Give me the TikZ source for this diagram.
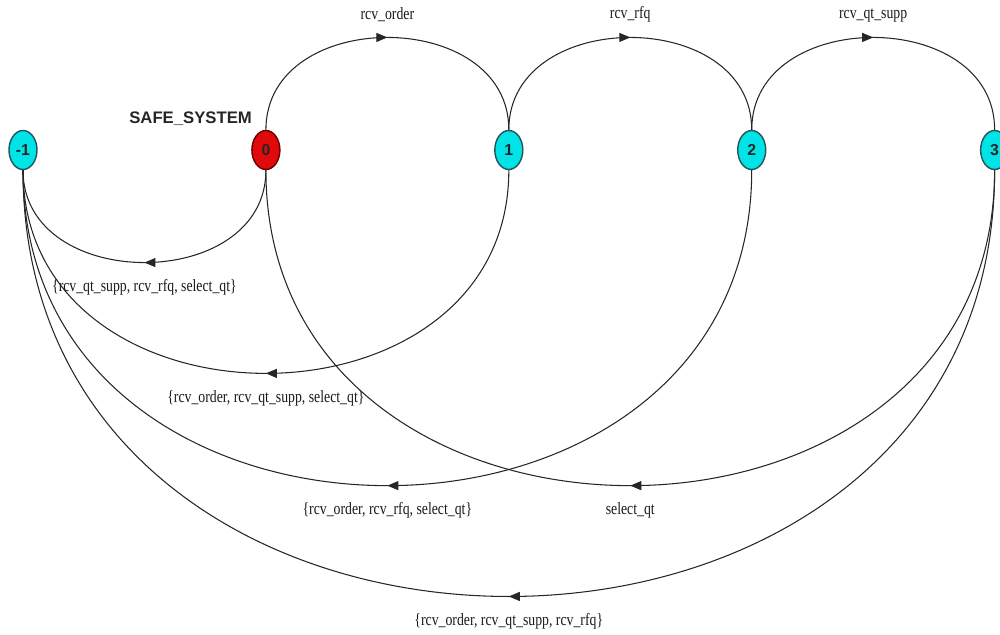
\documentclass[tikz,border=0pt]{standalone}
\usepackage{fontspec}
\setmainfont{Liberation Serif}
\newfontfamily\edgefont[FakeStretch=0.8]{Liberation Serif}
\newfontfamily\statefont{Liberation Sans}
\usetikzlibrary{shapes}
\usetikzlibrary{positioning}
\usetikzlibrary{arrows.meta}
\usetikzlibrary{decorations.markings}
\definecolor{statecyan}{RGB}{0,228,232}
\definecolor{statecyanline}{RGB}{35,85,90}
\definecolor{statered}{RGB}{225,10,10}
\definecolor{stateredline}{RGB}{105,0,0}
\tikzset{
    mystate/.style = {ellipse, thick, draw=statecyanline, fill=statecyan, minimum width=0.56cm, minimum height=0.78cm, inner sep=0pt, font=\statefont\bfseries\fontsize{9}{10}\selectfont, text=black!85},
    mystater/.style = {mystate, draw=stateredline, fill=statered},
    edgen/.style = {-, line width=0.6pt, black!85},
    edgem/.style = {edgen, postaction={decorate}, decoration={markings, mark=at position 0.5 with {\arrow{Triangle[length=2.2mm,width=1.8mm]}}}},
    edgelbl/.style = {inner sep=0pt, font=\edgefont\fontsize{9.8}{11}\selectfont, text=black!90},
    syslbl/.style = {inner sep=0pt, font=\statefont\bfseries\fontsize{9.5}{11}\selectfont, text=black!85}
}

\begin{document}
\begin{tikzpicture}[thick]
  \useasboundingbox (0,0) rectangle (20,-12.7);
  % states
  \node[mystate] (m1) at (0.46,-3.0) {-1};
  \node[mystater, right=4.27cm of m1] (s0) {0};
  \node[mystate, right=4.27cm of s0] (s1) {1};
  \node[mystate, right=4.27cm of s1] (s2) {2};
  \node[mystate, right=4.27cm of s2] (s3) {3};
  \node[syslbl, above left=0.18cm and 0.06cm of s0] (safe) {SAFE\_SYSTEM};
  % forward transitions
  \draw[edgem] (s0) to[out=90, in=90, looseness=1.3]
    node[edgelbl, pos=0.5, above=0.3cm] (e01) {rcv\_order} (s1);
  \draw[edgem] (s1) to[out=90, in=90, looseness=1.3]
    node[edgelbl, pos=0.5, above=0.3cm] (e12) {rcv\_rfq} (s2);
  \draw[edgem] (s2) to[out=90, in=90, looseness=1.3]
    node[edgelbl, pos=0.5, above=0.3cm] (e23) {rcv\_qt\_supp} (s3);
  % back transitions
  \draw[edgem] (s0) to[out=-90, in=-90, looseness=1.3]
    node[edgelbl, pos=0.5, below=0.33cm] (e0m) {\{rcv\_qt\_supp, rcv\_rfq, select\_qt\}} (m1);
  \draw[edgem] (s1) to[out=-90, in=-90, looseness=1.43]
    node[edgelbl, pos=0.5, below=0.33cm] (e1m) {\{rcv\_order, rcv\_qt\_supp, select\_qt\}} (m1);
  \draw[edgem] (s2) to[out=-90, in=-90, looseness=1.48]
    node[edgelbl, pos=0.5, below=0.33cm] (e2m) {\{rcv\_order, rcv\_rfq, select\_qt\}} (m1);
  \draw[edgem] (s3) to[out=-90, in=-90, looseness=1.48]
    node[edgelbl, pos=0.5, below=0.33cm] (e30) {select\_qt} (s0);
  \draw[edgem] (s3) to[out=-90, in=-90, looseness=1.5]
    node[edgelbl, pos=0.5, below=0.33cm] (e3m) {\{rcv\_order, rcv\_qt\_supp, rcv\_rfq\}} (m1);
\end{tikzpicture}
\end{document}
